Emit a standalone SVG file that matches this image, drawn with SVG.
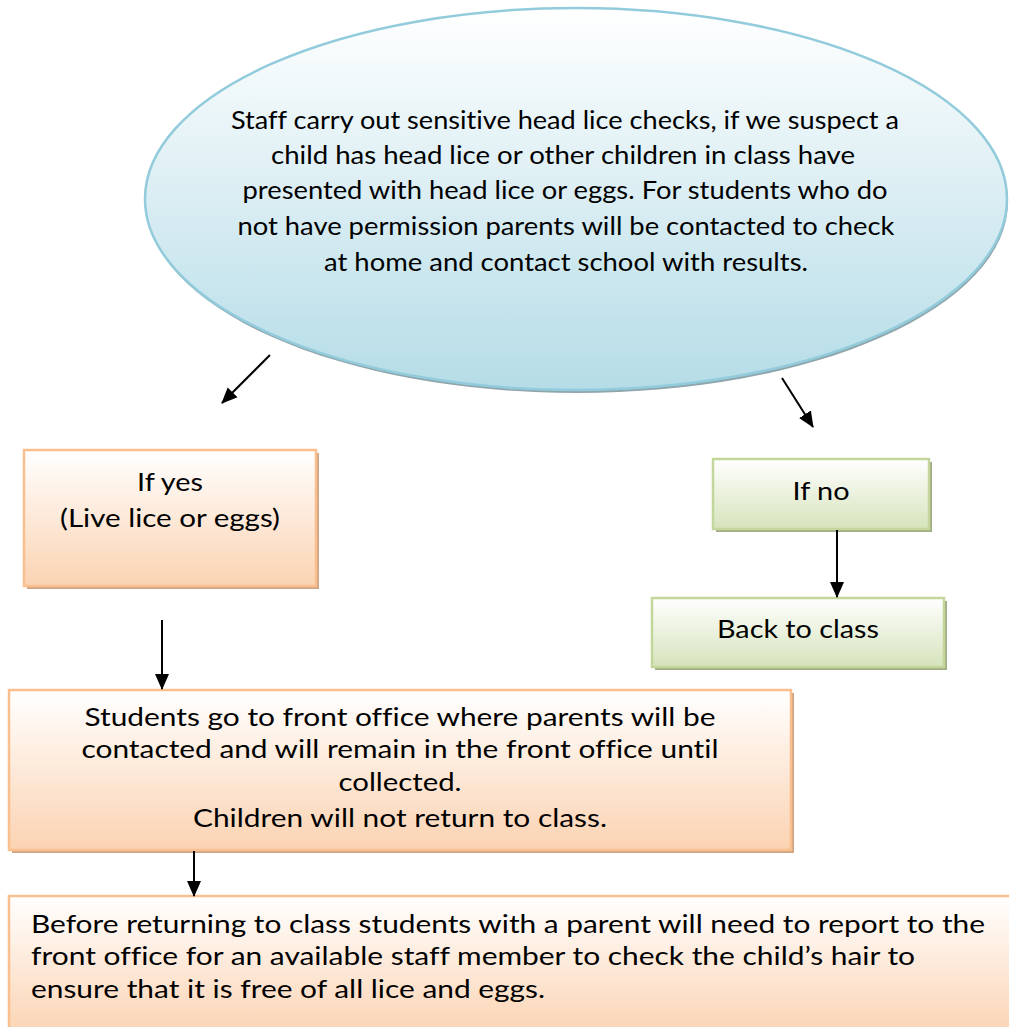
<svg xmlns="http://www.w3.org/2000/svg" width="1009" height="1027" viewBox="0 0 1009 1027">
<defs>
<linearGradient id="gBlue" x1="0" y1="0" x2="0" y2="1">
<stop offset="0" stop-color="#ffffff"/>
<stop offset="1" stop-color="#b5dce7"/>
</linearGradient>
<linearGradient id="gOrange" x1="0" y1="0" x2="0" y2="1">
<stop offset="0" stop-color="#ffffff"/>
<stop offset="1" stop-color="#fbd3b2"/>
</linearGradient>
<linearGradient id="gGreen" x1="0" y1="0" x2="0" y2="1">
<stop offset="0" stop-color="#ffffff"/>
<stop offset="1" stop-color="#d6e3bb"/>
</linearGradient>
<marker id="arrow" markerUnits="userSpaceOnUse" markerWidth="16" markerHeight="16" refX="15" refY="8" orient="auto">
<path d="M0,1 L16,8 L0,15 Z" fill="#000"/>
</marker>
</defs>
<style>
text{font-family:Lato,"Open Sans","Liberation Sans",sans-serif;font-size:25.5px;fill:#000;font-variant-ligatures:none;font-feature-settings:"liga" 0,"clig" 0}
.c{text-anchor:middle}
.orange{fill:url(#gOrange);stroke:#fabf8f;stroke-width:2.5}
.green{fill:url(#gGreen);stroke:#c3d69b;stroke-width:2.5}
.shO{fill:#cfa585}
.shG{fill:#a3ad85}
.conn line{stroke:#000;stroke-width:2;marker-end:url(#arrow)}
</style>
<rect width="1009" height="1027" fill="#fff"/>

<g id="start">
<ellipse cx="577" cy="202" rx="431" ry="191" fill="#8fa6ad"/>
<ellipse cx="576" cy="199" rx="431" ry="191" fill="url(#gBlue)" stroke="#92cbdb" stroke-width="2.5"/>
<text class="c" x="565" y="129" textLength="668" lengthAdjust="spacingAndGlyphs">Staff carry out sensitive head lice checks, if we suspect a</text>
<text class="c" x="563" y="164" textLength="584" lengthAdjust="spacingAndGlyphs">child has head lice or other children in class have</text>
<text class="c" x="565" y="199" textLength="645" lengthAdjust="spacingAndGlyphs">presented with head lice or eggs. For students who do</text>
<text class="c" x="566" y="235" textLength="657" lengthAdjust="spacingAndGlyphs">not have permission parents will be contacted to check</text>
<text class="c" x="566" y="271" textLength="484" lengthAdjust="spacingAndGlyphs">at home and contact school with results.</text>
</g>

<g id="ifyes">
<rect class="shO" x="27" y="453" width="292" height="136"/>
<rect class="orange" x="24" y="450" width="292" height="136"/>
<text class="c" x="170" y="491" textLength="66" lengthAdjust="spacingAndGlyphs">If yes</text>
<text class="c" x="170" y="527" textLength="220" lengthAdjust="spacingAndGlyphs">(Live lice or eggs)</text>
</g>

<g id="ifno">
<rect class="shG" x="716" y="462" width="216" height="70"/>
<rect class="green" x="713" y="459" width="216" height="70"/>
<text class="c" x="821" y="500" textLength="57" lengthAdjust="spacingAndGlyphs">If no</text>
</g>

<g id="back">
<rect class="shG" x="655" y="601" width="292" height="69"/>
<rect class="green" x="652" y="598" width="292" height="69"/>
<text class="c" x="798" y="638" textLength="162" lengthAdjust="spacingAndGlyphs">Back to class</text>
</g>

<g id="office">
<rect class="shO" x="12" y="693" width="782" height="160"/>
<rect class="orange" x="9" y="690" width="782" height="160"/>
<text class="c" x="400" y="726" textLength="631" lengthAdjust="spacingAndGlyphs">Students go to front office where parents will be</text>
<text class="c" x="400" y="758" textLength="637" lengthAdjust="spacingAndGlyphs">contacted and will remain in the front office until</text>
<text class="c" x="400" y="791" textLength="123" lengthAdjust="spacingAndGlyphs">collected.</text>
<text class="c" x="400" y="827" textLength="414" lengthAdjust="spacingAndGlyphs">Children will not return to class.</text>
</g>

<g id="return">
<rect class="orange" x="9" y="896" width="1012" height="140"/>
<text x="31" y="933" textLength="954" lengthAdjust="spacingAndGlyphs">Before returning to class students with a parent will need to report to the</text>
<text x="31" y="965" textLength="884" lengthAdjust="spacingAndGlyphs">front office for an available staff member to check the child’s hair to</text>
<text x="31" y="998" textLength="514" lengthAdjust="spacingAndGlyphs">ensure that it is free of all lice and eggs.</text>
</g>

<g id="connectors" class="conn">
<line x1="270" y1="355" x2="222" y2="403"/>
<line x1="782" y1="378" x2="813" y2="427"/>
<line x1="837" y1="530" x2="837" y2="597"/>
<line x1="162" y1="620" x2="162" y2="689"/>
<line x1="194" y1="851" x2="194" y2="896"/>
</g>
</svg>
